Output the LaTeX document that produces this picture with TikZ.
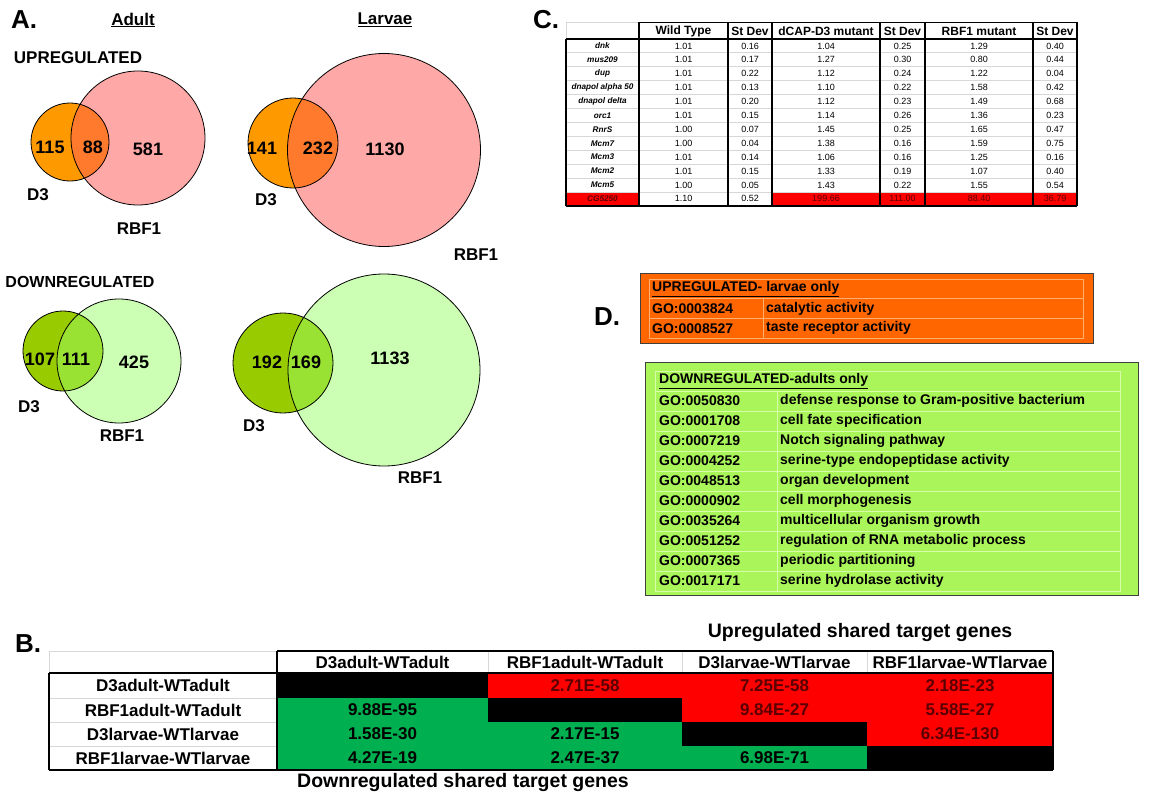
\documentclass[tikz,border=0pt]{standalone}
\usepackage{fontspec}
\setmainfont{Liberation Sans}
\definecolor{d3up}{RGB}{255,153,0}
\definecolor{rbup}{RGB}{255,168,168}
\definecolor{ovup}{RGB}{255,122,45}
\definecolor{d3dn}{RGB}{153,204,0}
\definecolor{rbdn}{RGB}{204,255,180}
\definecolor{ovdn}{RGB}{153,226,51}
\definecolor{goor}{RGB}{255,102,0}
\definecolor{goorl}{RGB}{255,175,110}
\definecolor{gogr}{RGB}{170,245,90}
\definecolor{gogrl}{RGB}{215,255,170}
\definecolor{bgreen}{RGB}{0,176,80}
\definecolor{bred}{RGB}{255,0,0}
\definecolor{gridgray}{RGB}{215,215,215}
\definecolor{redtxt}{RGB}{90,0,0}
\begin{document}
\begin{tikzpicture}[x=1pt,y=-1pt,
  every node/.style={inner sep=0pt},
  panel/.style={font=\fontsize{26}{28}\selectfont\bfseries},
  vnum/.style={font=\fontsize{18}{20}\selectfont\bfseries},
  vlab/.style={font=\fontsize{17}{19}\selectfont\bfseries},
  head/.style={font=\fontsize{17}{19}\selectfont\bfseries},
  thdr/.style={font=\fontsize{12}{14}\selectfont\bfseries},
  tgene/.style={font=\fontsize{8.2}{10}\selectfont\bfseries\itshape},
  tval/.style={font=\fontsize{9}{11}\selectfont},
  gotxt/.style={font=\fontsize{14}{16}\selectfont\bfseries, anchor=west},
  btxt/.style={font=\fontsize{17}{19}\selectfont\bfseries},
  bigcap/.style={font=\fontsize{19.5}{22}\selectfont\bfseries},
  vline/.style={draw=black, line width=0.8pt},
  blk/.style={draw=black, line width=1.6pt},
  gline/.style={draw=gridgray, line width=0.8pt}
]
\useasboundingbox (0,0) rectangle (1154,800);

% ---------------- Panel A ----------------
\node[panel] (pA) at (24,20) {A.};
\node[head] (tAdult) at (133,20) {\underline{Adult}};
\node[head] (tLarvae) at (385,20) {\underline{Larvae}};
\node[head] (tUp) at (78,58) {UPREGULATED};
\node[head,font=\fontsize{16}{18}\selectfont\bfseries] (tDown) at (80,282) {DOWNREGULATED};

% adult up
\fill[rbup] (138,138) circle[radius=67pt];
\fill[d3up] (70,142) circle[radius=39pt];
\begin{scope}\clip (138,138) circle[radius=67pt]; \fill[ovup] (70,142) circle[radius=39pt];\end{scope}
\draw[vline] (138,138) circle[radius=67pt];
\draw[vline] (70,142) circle[radius=39pt];
\node[vnum] (n115) at (50,147) {115};
\node[vnum] (n88) at (93,147) {88};
\node[vnum] (n581) at (148,149) {581};
\node[vlab] (lD3a) at (38,195) {D3};
\node[vlab] (lRBa) at (139,229) {RBF1};

% larvae up
\fill[rbup] (384,150) circle[radius=96.5pt];
\fill[d3up] (293,143) circle[radius=45pt];
\begin{scope}\clip (384,150) circle[radius=96.5pt]; \fill[ovup] (293,143) circle[radius=45pt];\end{scope}
\draw[vline] (384,150) circle[radius=96.5pt];
\draw[vline] (293,143) circle[radius=45pt];
\node[vnum] (n141) at (262,148) {141};
\node[vnum] (n232) at (318,148) {232};
\node[vnum] (n1130) at (385,149) {1130};
\node[vlab] (lD3b) at (266,200) {D3};
\node[vlab] (lRBb) at (476,255) {RBF1};

% adult down
\fill[rbdn] (119,361) circle[radius=62pt];
\fill[d3dn] (63,351) circle[radius=40pt];
\begin{scope}\clip (119,361) circle[radius=62pt]; \fill[ovdn] (63,351) circle[radius=40pt];\end{scope}
\draw[vline] (119,361) circle[radius=62pt];
\draw[vline] (63,351) circle[radius=40pt];
\node[vnum] (n107) at (40,359) {107};
\node[vnum] (n111) at (76,359) {111};
\node[vnum] (n425) at (134,362) {425};
\node[vlab] (lD3c) at (29,407) {D3};
\node[vlab] (lRBc) at (122,436) {RBF1};

% larvae down
\fill[rbdn] (384,370) circle[radius=96pt];
\fill[d3dn] (283,363) circle[radius=50pt];
\begin{scope}\clip (384,370) circle[radius=96pt]; \fill[ovdn] (283,363) circle[radius=50pt];\end{scope}
\draw[vline] (384,370) circle[radius=96pt];
\draw[vline] (283,363) circle[radius=50pt];
\node[vnum] (n192) at (267,362) {192};
\node[vnum] (n169) at (306,362) {169};
\node[vnum] (n1133) at (390,358) {1133};
\node[vlab] (lD3d) at (254,426) {D3};
\node[vlab] (lRBd) at (420,478) {RBF1};

% ---------------- Panel C ----------------
\node[panel] (pC) at (546,20) {C.};
\fill[bred] (566,191.9) rectangle (639,205.8);
\fill[bred] (772,191.9) rectangle (1077,205.8);
\foreach \i in {1,...,11} {\draw[gline] (566,39+13.9*\i) -- (1077,39+13.9*\i);}
\draw[gline] (566,22) -- (639,22) (566,22) -- (566,39);
\draw[vline] (639,22) -- (1077,22);
\draw[blk] (566,39) -- (1077,39);
\draw[blk] (566,205.8) -- (1077,205.8);
\draw[vline,line width=1.2pt] (566,39) -- (566,205.8);
\foreach \x in {639,728,772,880,925,1033,1077} {\draw[vline,line width=1.2pt] (\x,22) -- (\x,205.8);}
\node[thdr] (hWT) at (683.5,31) {Wild Type};
\node[thdr] (hS1) at (750,31) {St Dev};
\node[thdr] (hD3) at (826,31) {dCAP-D3 mutant};
\node[thdr] (hS2) at (902.5,31) {St Dev};
\node[thdr] (hRB) at (979,31) {RBF1 mutant};
\node[thdr] (hS3) at (1055,31) {St Dev};
\foreach \g/\a/\b/\c/\d/\e/\f [count=\i] in {
  dnk/1.01/0.16/1.04/0.25/1.29/0.40,
  mus209/1.01/0.17/1.27/0.30/0.80/0.44,
  dup/1.01/0.22/1.12/0.24/1.22/0.04,
  dnapol alpha 50/1.01/0.13/1.10/0.22/1.58/0.42,
  dnapol delta/1.01/0.20/1.12/0.23/1.49/0.68,
  orc1/1.01/0.15/1.14/0.26/1.36/0.23,
  RnrS/1.00/0.07/1.45/0.25/1.65/0.47,
  Mcm7/1.00/0.04/1.38/0.16/1.59/0.75,
  Mcm3/1.01/0.14/1.06/0.16/1.25/0.16,
  Mcm2/1.01/0.15/1.33/0.19/1.07/0.40,
  Mcm5/1.00/0.05/1.43/0.22/1.55/0.54} {
  \pgfmathsetmacro\yy{39+13.9*(\i-0.5)}
  \node[tgene] (cg\i) at (602.5,\yy) {\g};
  \node[tval] (ca\i) at (683.5,\yy) {\a};
  \node[tval] (cb\i) at (750,\yy) {\b};
  \node[tval] (cc\i) at (826,\yy) {\c};
  \node[tval] (cd\i) at (902.5,\yy) {\d};
  \node[tval] (ce\i) at (979,\yy) {\e};
  \node[tval] (cf\i) at (1055,\yy) {\f};
}
\node[tgene,text=redtxt] (cg12) at (602.5,198.9) {CG5250};
\node[tval] (ca12) at (683.5,198.9) {1.10};
\node[tval] (cb12) at (750,198.9) {0.52};
\node[tval,text=redtxt] (cc12) at (826,198.9) {199.66};
\node[tval,text=redtxt] (cd12) at (902.5,198.9) {111.00};
\node[tval,text=redtxt] (ce12) at (979,198.9) {88.40};
\node[tval,text=redtxt] (cf12) at (1055,198.9) {36.79};

% ---------------- Panel D ----------------
\node[panel] (pD) at (607,317) {D.};
\draw[fill=goor,draw=black!75,line width=0.8pt] (640,273) rectangle (1093,343);
\draw[draw=goorl,line width=0.8pt] (649,279) rectangle (1083,338);
\draw[draw=goorl,line width=0.8pt] (649,298.7) -- (1083,298.7) (649,318.3) -- (1083,318.3) (763,298.7) -- (763,338);
\node[gotxt] (oh) at (652,289) {\underline{UPREGULATED- larvae only}};
\node[gotxt] (o1) at (652,308.5) {GO:0003824};
\node[gotxt] (o1d) at (766,308.5) {catalytic activity};
\node[gotxt] (o2) at (652,328.2) {GO:0008527};
\node[gotxt] (o2d) at (766,328.2) {taste receptor activity};

\draw[fill=gogr,draw=black!75,line width=0.8pt] (645,362) rectangle (1138,595);
\draw[draw=gogrl,line width=0.8pt] (655,371) rectangle (1120,591);
\foreach \i in {0,...,9} {\draw[draw=gogrl,line width=0.8pt] (655,391+20*\i) -- (1120,391+20*\i);}
\draw[draw=gogrl,line width=0.8pt] (777,391) -- (777,591);
\node[gotxt] (gh) at (659,381) {\underline{DOWNREGULATED-adults only}};
\foreach \c/\t [count=\i] in {
  GO:0050830/defense response to Gram-positive bacterium,
  GO:0001708/cell fate specification,
  GO:0007219/Notch signaling pathway,
  GO:0004252/serine-type endopeptidase activity,
  GO:0048513/organ development,
  GO:0000902/cell morphogenesis,
  GO:0035264/multicellular organism growth,
  GO:0051252/regulation of RNA metabolic process,
  GO:0007365/periodic partitioning,
  GO:0017171/serine hydrolase activity} {
  \node[gotxt] (gc\i) at (659,381+20*\i) {\c};
  \node[gotxt] (gd\i) at (780,381+20*\i) {\t};
}

% ---------------- Panel B ----------------
\node[panel] (pB) at (28,644) {B.};
\node[bigcap] (capUp) at (860,632) {Upregulated shared target genes};
\node[bigcap] (capDn) at (463,782) {Downregulated shared target genes};
\fill[bred] (488,673) -- (1053,673) -- (1053,746) -- (867,746) -- (867,722) -- (682,722) -- (682,698) -- (488,698) -- cycle;
\fill[bgreen] (277,698) -- (488,698) -- (488,722) -- (682,722) -- (682,746) -- (867,746) -- (867,770) -- (277,770) -- cycle;
\fill[black] (277,673) rectangle (488,698);
\fill[black] (488,698) rectangle (682,722);
\fill[black] (682,722) rectangle (867,746);
\fill[black] (867,746) rectangle (1053,770);
\draw[gline] (49,651) -- (277,651) (49,651) -- (49,673);
\foreach \x in {488,682,867} {\draw[gline] (\x,651) -- (\x,673);}
\foreach \y in {698,722,746} {\draw[gline] (49,\y) -- (277,\y);}
\draw[blk] (277,651) -- (1053,651);
\draw[blk] (49,673) -- (1053,673);
\draw[blk] (49,770) -- (1053,770);
\draw[blk] (49,673) -- (49,770);
\draw[blk] (277,651) -- (277,770);
\draw[blk] (1053,651) -- (1053,770);
\foreach \t/\x [count=\i] in {D3adult-WTadult/382.5, RBF1adult-WTadult/585, D3larvae-WTlarvae/774.5, RBF1larvae-WTlarvae/960} {
  \node[btxt] (bh\i) at (\x,662) {\t};
}
\foreach \t/\y [count=\i] in {D3adult-WTadult/685.5, RBF1adult-WTadult/710, D3larvae-WTlarvae/734, RBF1larvae-WTlarvae/758} {
  \node[btxt] (br\i) at (163,\y) {\t};
}
\node[btxt,text=redtxt] (b12) at (585,685.5) {2.71E-58};
\node[btxt,text=redtxt] (b13) at (774.5,685.5) {7.25E-58};
\node[btxt,text=redtxt] (b14) at (960,685.5) {2.18E-23};
\node[btxt] (b21) at (382.5,710) {9.88E-95};
\node[btxt,text=redtxt] (b23) at (774.5,710) {9.84E-27};
\node[btxt,text=redtxt] (b24) at (960,710) {5.58E-27};
\node[btxt] (b31) at (382.5,734) {1.58E-30};
\node[btxt] (b32) at (585,734) {2.17E-15};
\node[btxt,text=redtxt] (b34) at (960,734) {6.34E-130};
\node[btxt] (b41) at (382.5,758) {4.27E-19};
\node[btxt] (b42) at (585,758) {2.47E-37};
\node[btxt] (b43) at (774.5,758) {6.98E-71};
\end{tikzpicture}
\end{document}
